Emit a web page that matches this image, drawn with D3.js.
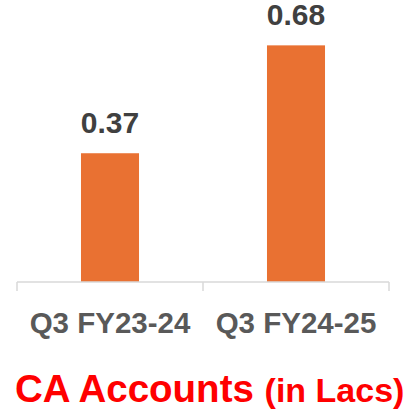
<!DOCTYPE html>
<html>
<head>
<meta charset="utf-8">
<script src="https://cdn.jsdelivr.net/npm/d3@7"></script>
<style>
  html, body { margin: 0; padding: 0; background: #fff; }
  svg { display: block; }
</style>
</head>
<body>
<svg id="chart" width="413" height="411"></svg>
<script>
// Quarterly CA accounts, in lakhs
const categories = ["Q3 FY23-24", "Q3 FY24-25"];
const values = [0.37, 0.68];
const valueLabels = ["0.37", "0.68"];

const svg = d3.select("#chart");
const font = "'Liberation Sans', Arial, sans-serif";

const baseline = 282;
const x = d3.scaleBand().domain(categories).range([17, 389]).padding(0);
const y = d3.scaleLinear().domain([0, 1]).range([baseline, baseline - 348]);
const barW = x.bandwidth() * 0.312;

// bars
svg.selectAll("rect.bar")
  .data(values)
  .join("rect")
  .attr("class", "bar")
  .attr("x", (d, i) => x(categories[i]) + x.bandwidth() / 2 - barW / 2)
  .attr("y", d => y(d))
  .attr("width", barW)
  .attr("height", d => y(0) - y(d))
  .attr("fill", "#E97132");

// value labels
svg.selectAll("text.val")
  .data(values)
  .join("text")
  .attr("class", "val")
  .attr("x", (d, i) => x(categories[i]) + x.bandwidth() / 2)
  .attr("y", d => y(d) - 20.5)
  .attr("text-anchor", "middle")
  .attr("font-family", font)
  .attr("font-weight", "bold")
  .attr("font-size", 30)
  .attr("fill", "#404040")
  .text((d, i) => valueLabels[i]);

// category axis
const axis = svg.append("g")
  .attr("transform", `translate(0,${baseline})`)
  .call(d3.axisBottom(x).tickSize(0).tickFormat(d => d));
axis.select(".domain").remove();
axis.selectAll("text")
  .attr("dy", null)
  .attr("y", 50.5)
  .attr("font-family", font)
  .attr("font-weight", "bold")
  .attr("font-size", 29.5)
  .attr("fill", "#595959");

// baseline and category dividers
const edges = [x.range()[0], ...categories.slice(1).map(c => x(c)), x.range()[1]];
svg.append("line")
  .attr("x1", x.range()[0]).attr("x2", x.range()[1])
  .attr("y1", baseline).attr("y2", baseline)
  .attr("stroke", "#D9D9D9").attr("stroke-width", 1.5);
svg.selectAll("line.div")
  .data(edges)
  .join("line")
  .attr("class", "div")
  .attr("x1", d => d).attr("x2", d => d)
  .attr("y1", baseline).attr("y2", baseline + 9)
  .attr("stroke", "#D9D9D9").attr("stroke-width", 1.5);

// title
const title = svg.append("text")
  .attr("x", 15)
  .attr("y", 402)
  .attr("font-family", font)
  .attr("font-weight", "bold")
  .attr("fill", "#FF0000");
title.append("tspan").attr("font-size", 38.5).text("CA Accounts ");
title.append("tspan").attr("font-size", 34).text("(in Lacs)");
</script>
</body>
</html>
